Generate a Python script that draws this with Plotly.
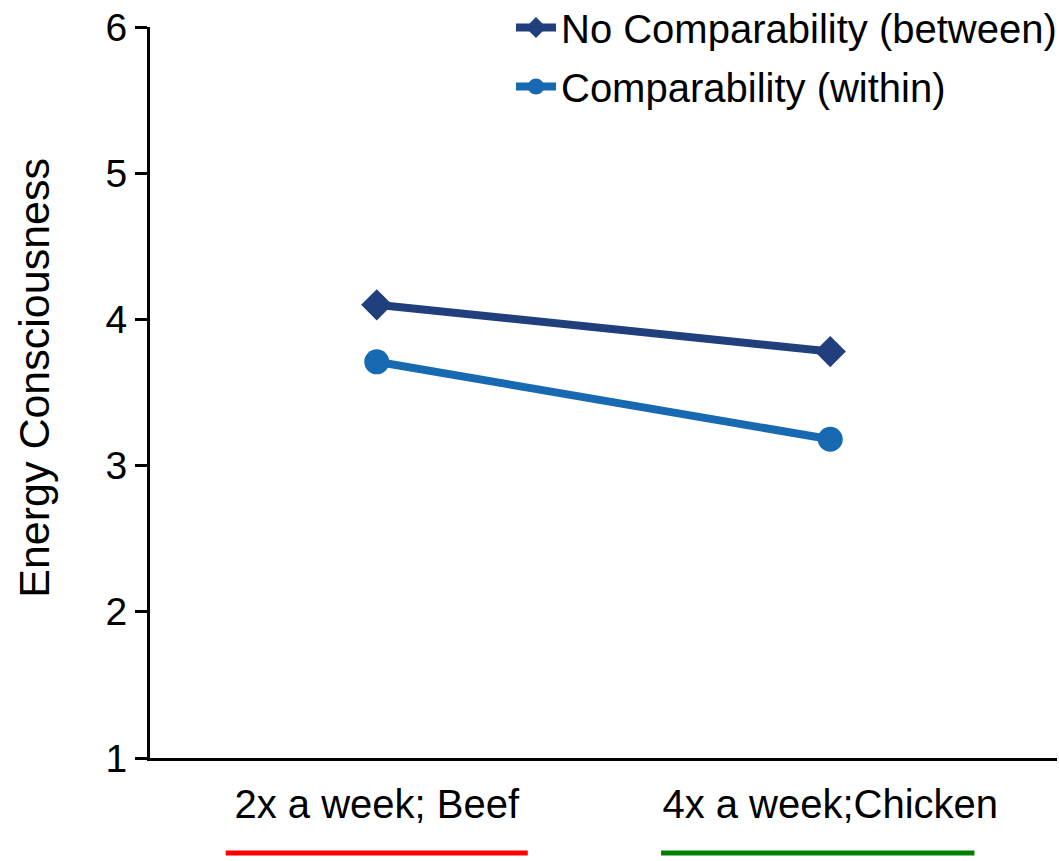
import plotly.graph_objects as go

categories = ["2x a week; Beef", "4x a week;Chicken"]
no_comp = [4.10, 3.78]
comp = [3.71, 3.18]
series_names = ["No Comparability (between)", "Comparability (within)"]
y_title = "Energy Consciousness"
underline_colors = ["#FF0000", "#008000"]
underline_spans = [(-0.333, 0.333), (-0.373, 0.318)]

fig = go.Figure()
fig.add_trace(go.Scatter(
    x=categories, y=no_comp, name=series_names[0], mode="lines+markers",
    legendgroup="a",
    line=dict(color="#203F7C", width=8),
    marker=dict(symbol="diamond", size=24, color="#203F7C"),
))
fig.add_trace(go.Scatter(
    x=categories, y=comp, name=series_names[1], mode="lines+markers",
    legendgroup="b",
    line=dict(color="#1769B2", width=8),
    marker=dict(symbol="circle", size=25, color="#1769B2"),
))

for i, (c, (a, b)) in enumerate(zip(underline_colors, underline_spans)):
    fig.add_shape(type="line", xref="x", yref="paper",
                  x0=i + a, x1=i + b, y0=-0.13, y1=-0.13,
                  line=dict(color=c, width=5))

fig.add_annotation(text=y_title, textangle=-90, xref="paper", yref="paper",
                   x=-0.128, y=0.52, xanchor="center", yanchor="middle",
                   showarrow=False, font=dict(size=43))

fig.update_layout(
    width=1059, height=861,
    margin=dict(l=150, r=2, t=27, b=103, autoexpand=False),
    paper_bgcolor="white", plot_bgcolor="white",
    font=dict(family="Liberation Sans, Arial", size=40, color="black"),
    legend=dict(x=1.0055, xanchor="right",
                y=1.0438, yanchor="top",
                font=dict(size=40), bgcolor="rgba(0,0,0,0)",
                traceorder="grouped", tracegroupgap=4, itemwidth=40),
    showlegend=True,
)
fig.update_xaxes(
    type="category", range=[-0.5, 1.5],
    showline=True, linecolor="black", linewidth=3,
    ticks="", showgrid=False, zeroline=False,
    tickfont=dict(size=40),
    ticklabelstandoff=9,
)
fig.update_yaxes(
    range=[1, 6], dtick=1, tick0=1,
    showline=True, linecolor="black", linewidth=3,
    ticks="outside", ticklen=12, tickwidth=3, tickcolor="black",
    showgrid=False, zeroline=False, automargin=False,
    ticklabeloverflow="allow",
    tickfont=dict(size=39),
)

fig.write_html("out.html",
               config={"displayModeBar": False},
               post_script="document.body.style.margin='0';")
